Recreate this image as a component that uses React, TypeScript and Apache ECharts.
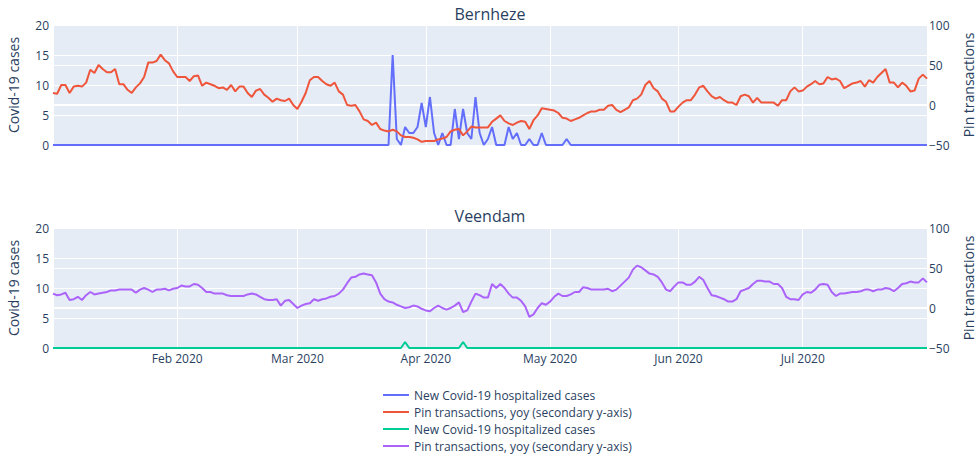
import React, { useEffect, useRef } from "react";
import * as echarts from "echarts";

// ---------- data ----------
const START_DATE = "2020-01-02";
const END_DATE = "2020-07-31";
const MONTHS = ["Jan", "Feb", "Mar", "Apr", "May", "Jun", "Jul", "Aug", "Sep", "Oct", "Nov", "Dec"];

const SUBPLOT_TITLES = ["Bernheze", "Veendam"];
const LEFT_AXIS_NAME = "Covid-19 cases";
const RIGHT_AXIS_NAME = "Pin transactions";
const HOSP_NAME = "New Covid-19 hospitalized cases";
const PIN_NAME = "Pin transactions, yoy (secondary y-axis)";

const LEFT_TICKS = { min: 0, max: 20, interval: 5 };
const RIGHT_TICKS = { min: -50, max: 100, interval: 50 };

// Bernheze: new hospitalized cases (daily, from 2020-01-02)
const bernhezeHospitalized = [
  0, 0, 0, 0, 0, 0, 0, 0, 0, 0,
  0, 0, 0, 0, 0, 0, 0, 0, 0, 0,
  0, 0, 0, 0, 0, 0, 0, 0, 0, 0,
  0, 0, 0, 0, 0, 0, 0, 0, 0, 0,
  0, 0, 0, 0, 0, 0, 0, 0, 0, 0,
  0, 0, 0, 0, 0, 0, 0, 0, 0, 0,
  0, 0, 0, 0, 0, 0, 0, 0, 0, 0,
  0, 0, 0, 0, 0, 0, 0, 0, 0, 0,
  0, 0, 15, 1, 0, 3, 2, 2, 3, 7,
  3, 8, 2, 0, 2, 0, 0, 6, 1, 6,
  2, 1, 8, 2, 0, 1, 3, 0, 0, 0,
  3, 1, 2, 0, 0, 1, 0, 0, 2, 0,
  0, 0, 0, 0, 1, 0, 0, 0, 0, 0,
  0, 0, 0, 0, 0, 0, 0, 0, 0, 0,
  0, 0, 0, 0, 0, 0, 0, 0, 0, 0,
  0, 0, 0, 0, 0, 0, 0, 0, 0, 0,
  0, 0, 0, 0, 0, 0, 0, 0, 0, 0,
  0, 0, 0, 0, 0, 0, 0, 0, 0, 0,
  0, 0, 0, 0, 0, 0, 0, 0, 0, 0,
  0, 0, 0, 0, 0, 0, 0, 0, 0, 0,
  0, 0, 0, 0, 0, 0, 0, 0, 0, 0,
  0, 0,
];

// Bernheze: pin transactions yoy (%)
const bernhezePin = [
  15, 14, 25, 25, 15, 23, 24, 23, 28, 44,
  40, 50, 45, 41, 41, 45, 26, 26, 19, 15,
  22, 27, 35, 53, 53, 55, 63, 56, 52, 42,
  35, 35, 35, 30, 36, 37, 24, 28, 26, 24,
  21, 22, 19, 25, 17, 23, 23, 15, 10, 18,
  20, 13, 9, 4, 8, 6, 5, 8, 0, -5,
  4, 15, 31, 35, 35, 30, 26, 24, 28, 17,
  13, 0, -1, 0, -8, -18, -20, -25, -22, -30,
  -32, -33, -31, -33, -38, -40, -40, -41, -43, -46,
  -45, -45, -45, -43, -42, -40, -33, -31, -30, -38,
  -33, -27, -28, -28, -28, -28, -21, -17, -13, -20,
  -23, -25, -22, -20, -21, -30, -19, -13, -4, -5,
  -6, -7, -10, -16, -17, -20, -18, -16, -13, -10,
  -8, -8, -6, -6, -1, 0, -6, -9, -6, -3,
  6, 8, 13, 25, 30, 21, 17, 8, 4, -8,
  -8, -2, 3, 6, 6, 13, 22, 24, 17, 11,
  8, 10, 6, 3, 3, 0, 11, 13, 11, 3,
  9, 3, 3, 3, 3, -1, 6, 6, 17, 22,
  17, 18, 23, 26, 30, 26, 27, 35, 32, 33,
  30, 21, 24, 27, 28, 30, 23, 31, 28, 35,
  40, 45, 28, 28, 22, 28, 24, 17, 18, 33,
  38, 33,
];

// Veendam: new hospitalized cases
const veendamHospitalized = [
  0, 0, 0, 0, 0, 0, 0, 0, 0, 0,
  0, 0, 0, 0, 0, 0, 0, 0, 0, 0,
  0, 0, 0, 0, 0, 0, 0, 0, 0, 0,
  0, 0, 0, 0, 0, 0, 0, 0, 0, 0,
  0, 0, 0, 0, 0, 0, 0, 0, 0, 0,
  0, 0, 0, 0, 0, 0, 0, 0, 0, 0,
  0, 0, 0, 0, 0, 0, 0, 0, 0, 0,
  0, 0, 0, 0, 0, 0, 0, 0, 0, 0,
  0, 0, 0, 0, 0, 1, 0, 0, 0, 0,
  0, 0, 0, 0, 0, 0, 0, 0, 0, 1,
  0, 0, 0, 0, 0, 0, 0, 0, 0, 0,
  0, 0, 0, 0, 0, 0, 0, 0, 0, 0,
  0, 0, 0, 0, 0, 0, 0, 0, 0, 0,
  0, 0, 0, 0, 0, 0, 0, 0, 0, 0,
  0, 0, 0, 0, 0, 0, 0, 0, 0, 0,
  0, 0, 0, 0, 0, 0, 0, 0, 0, 0,
  0, 0, 0, 0, 0, 0, 0, 0, 0, 0,
  0, 0, 0, 0, 0, 0, 0, 0, 0, 0,
  0, 0, 0, 0, 0, 0, 0, 0, 0, 0,
  0, 0, 0, 0, 0, 0, 0, 0, 0, 0,
  0, 0, 0, 0, 0, 0, 0, 0, 0, 0,
  0, 0,
];

// Veendam: pin transactions yoy (%)
const veendamPin = [
  18, 16, 17, 19, 10, 11, 14, 10, 16, 20,
  17, 18, 19, 20, 22, 22, 23, 23, 23, 23,
  19, 23, 25, 23, 20, 23, 23, 24, 22, 24,
  25, 28, 27, 27, 30, 29, 25, 20, 20, 18,
  18, 18, 16, 15, 15, 15, 15, 17, 18, 17,
  14, 11, 10, 10, 11, 3, 9, 10, 5, 0,
  3, 5, 6, 11, 9, 11, 12, 14, 15, 18,
  23, 31, 38, 39, 42, 43, 42, 41, 32, 18,
  11, 8, 7, 4, 2, 0, 1, 3, 2, -1,
  -3, -4, 0, 3, 0, -2, 0, 3, 7, -5,
  -3, 8, 18, 16, 13, 13, 30, 25, 30, 25,
  18, 13, 13, 9, 2, -11, -8, 0, 6, 4,
  8, 14, 18, 15, 15, 17, 20, 20, 26, 25,
  23, 23, 23, 23, 24, 21, 23, 28, 33, 38,
  48, 53, 51, 47, 43, 42, 39, 32, 23, 21,
  27, 32, 32, 29, 29, 33, 39, 35, 25, 16,
  15, 13, 11, 8, 8, 11, 21, 23, 25, 30,
  34, 34, 33, 33, 30, 30, 25, 14, 11, 11,
  10, 17, 20, 19, 23, 29, 30, 29, 20, 15,
  18, 18, 19, 20, 20, 21, 23, 23, 21, 23,
  23, 25, 24, 21, 25, 30, 31, 33, 32, 32,
  37, 32,
];

// ---------- styling ----------
const FONT = "'Open Sans', verdana, arial, sans-serif";
const TXT = "#2a3f5f";
const BG = "#E5ECF6";
const COLORS = { blue: "#636EFA", red: "#EF553B", green: "#00CC96", purple: "#AB63FA" };

const DAY = 86400000;
const startTs = Date.parse(START_DATE + "T00:00:00Z");
const endTs = Date.parse(END_DATE + "T00:00:00Z");
const toPairs = (vals: number[]) => vals.map((v, i) => [startTs + i * DAY, v]);

const monthFormatter = (val: number) => {
  const d = new Date(val);
  if (d.getUTCDate() !== 1) return "";
  return `${MONTHS[d.getUTCMonth()]} ${d.getUTCFullYear()}`;
};

const mainX = (gridIndex: number, showLabels: boolean) => ({
  type: "time",
  gridIndex,
  min: startTs,
  max: endTs,
  splitNumber: 7,
  axisLine: { show: false, onZero: false },
  axisTick: { show: false },
  axisLabel: {
    show: showLabels,
    color: TXT,
    fontSize: 12,
    fontFamily: FONT,
    margin: 4,
    formatter: monthFormatter,
    showMinLabel: false,
    showMaxLabel: false,
  },
  splitLine: { show: true, lineStyle: { color: "#fff", width: 1 } },
});

const zeroX = (gridIndex: number, yIdx: number) => ({
  type: "time",
  gridIndex,
  min: startTs,
  max: endTs,
  axisLine: { show: true, onZero: true, onZeroAxisIndex: yIdx, lineStyle: { color: "#fff", width: 2 } },
  axisTick: { show: false },
  axisLabel: { show: false },
  splitLine: { show: false },
});

const leftY = (gridIndex: number) => ({
  type: "value",
  gridIndex,
  position: "left",
  ...LEFT_TICKS,
  name: LEFT_AXIS_NAME,
  nameLocation: "middle",
  nameGap: 33,
  nameTextStyle: { color: TXT, fontSize: 14, fontFamily: FONT },
  axisLine: { show: false },
  axisTick: { show: false },
  axisLabel: { color: TXT, fontSize: 12, fontFamily: FONT, margin: 4 },
  splitLine: { show: true, lineStyle: { color: "#fff", width: 1 } },
});

const rightY = (gridIndex: number) => ({
  type: "value",
  gridIndex,
  position: "right",
  ...RIGHT_TICKS,
  name: RIGHT_AXIS_NAME,
  nameLocation: "middle",
  nameGap: 34,
  nameTextStyle: { color: TXT, fontSize: 14, fontFamily: FONT },
  axisLine: { show: false },
  axisTick: { show: false },
  axisLabel: {
    color: TXT,
    fontSize: 12,
    fontFamily: FONT,
    margin: 2,
    formatter: (v: number) => String(v).replace("-", "\u2212"),
  },
  splitLine: { show: true, lineStyle: { color: "#fff", width: 1 } },
});

const lineSeries = (name: string, color: string, xIdx: number, yIdx: number, vals: number[]) => ({
  name,
  type: "line",
  xAxisIndex: xIdx,
  yAxisIndex: yIdx,
  data: toPairs(vals),
  showSymbol: false,
  symbol: "none",
  lineStyle: { color, width: 2 },
  itemStyle: { color },
});

const NAMES = [HOSP_NAME, PIN_NAME, HOSP_NAME + " ", PIN_NAME + " "];

const option = {
  animation: false,
  useUTC: true,
  textStyle: { fontFamily: FONT },
  title: [
    { text: SUBPLOT_TITLES[0], left: "center", top: 6, padding: 0, textStyle: { fontSize: 16, fontWeight: "normal", color: TXT, fontFamily: FONT } },
    { text: SUBPLOT_TITLES[1], left: "center", top: 208, padding: 0, textStyle: { fontSize: 16, fontWeight: "normal", color: TXT, fontFamily: FONT } },
  ],
  grid: [
    { left: 53, right: 53, top: 25, height: 120, show: true, backgroundColor: BG, borderWidth: 0, outerBoundsMode: "none" },
    { left: 53, right: 53, top: 228, height: 120, show: true, backgroundColor: BG, borderWidth: 0, outerBoundsMode: "none" },
  ],
  xAxis: [mainX(0, false), mainX(1, true), zeroX(0, 1), zeroX(1, 3)],
  yAxis: [leftY(0), rightY(0), leftY(1), rightY(1)],
  legend: {
    orient: "vertical",
    left: 383,
    top: 389,
    icon: "rect",
    itemWidth: 26,
    itemHeight: 2,
    itemGap: 5,
    padding: 0,
    textStyle: { color: TXT, fontSize: 12, fontFamily: FONT },
    data: NAMES,
  },
  series: [
    lineSeries(NAMES[0], COLORS.blue, 0, 0, bernhezeHospitalized),
    lineSeries(NAMES[1], COLORS.red, 0, 1, bernhezePin),
    lineSeries(NAMES[2], COLORS.green, 1, 2, veendamHospitalized),
    lineSeries(NAMES[3], COLORS.purple, 1, 3, veendamPin),
  ],
};

export default function App() {
  const ref = useRef<HTMLDivElement>(null);
  useEffect(() => {
    if (!ref.current) return;
    const chart = echarts.init(ref.current, null, { renderer: "svg" });
    chart.setOption(option as any);
    return () => chart.dispose();
  }, []);
  return <div ref={ref} style={{ position: "absolute", left: 0, top: 0, width: 980, height: 460 }} />;
}
